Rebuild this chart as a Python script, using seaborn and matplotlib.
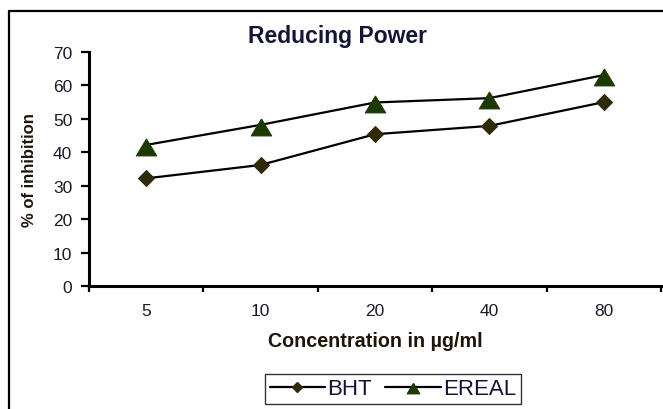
import matplotlib
matplotlib.use("Agg")
import matplotlib.pyplot as plt
from matplotlib.lines import Line2D
import seaborn as sns
import pandas as pd

categories = ["5", "10", "20", "40", "80"]
bht = [32.2, 36.2, 45.4, 47.9, 55.0]
ereal = [42.2, 48.2, 54.9, 56.2, 63.1]
y_ticks = [0, 10, 20, 30, 40, 50, 60, 70]
title = "Reducing Power"
x_label = "Concentration in µg/ml"
y_label = "% of inhibition"
series_names = ["BHT", "EREAL"]

sns.set_theme(style="white")
plt.rcParams['font.family'] = ['Liberation Sans', 'DejaVu Sans']

W, H = 663, 410
fig = plt.figure(figsize=(W / 100, H / 100), dpi=100)
ax = fig.add_axes([89 / W, 1 - 287 / H, (661 - 89) / W, (287 - 53) / H])

df = pd.DataFrame({"conc": categories * 2,
                   "val": bht + ereal,
                   "series": [series_names[0]] * 5 + [series_names[1]] * 5})

tri = [(0, 0.63), (-0.98, -1), (0.98, -1), (0, 0.63)]
sns.lineplot(data=df[df.series == "BHT"], x="conc", y="val", ax=ax, color="black",
             lw=1.6, marker="D", markersize=7.8, markerfacecolor="#2f2a08",
             markeredgecolor="#2f2a08", legend=False, sort=False)
sns.lineplot(data=df[df.series == "EREAL"], x="conc", y="val", ax=ax, color="black",
             lw=1.6, marker=tri, markersize=15, markerfacecolor="#1c3a00",
             markeredgecolor="#1c3a00", legend=False, sort=False)

ax.set_xlim(-0.5, 4.5)
ax.set_ylim(0, 70)
ax.set_yticks(y_ticks)
ax.set_xticks(range(len(categories)))
ax.set_xticklabels(categories)
ax.set_xticks([i - 0.5 for i in range(len(categories) + 1)], minor=True)
ax.tick_params(axis="x", which="major", length=0, pad=12, labelsize=12.5, labelcolor="#1a1a2a")
ax.tick_params(axis="x", which="minor", length=4, width=1.6, direction="out", color="black", bottom=True)
ax.tick_params(axis="y", length=6, width=1.6, direction="out", color="black", left=True,
               pad=6, labelsize=12.5, labelcolor="#1a1a2a")
ax.set_xlabel("")
ax.set_ylabel("")
for s in ["top", "right"]:
    ax.spines[s].set_visible(False)
for s in ["left", "bottom"]:
    ax.spines[s].set_color("black")
    ax.spines[s].set_linewidth(2.2)
ax.grid(False)
ax.patch.set_alpha(0)

fig.text(337 / W, 1 - 37 / H, title, ha="center", va="center", fontsize=16.5,
         fontweight="bold", color="#14143a")
fig.text(375 / W, 1 - 342 / H, x_label, ha="center", va="center", fontsize=14.2,
         fontweight="bold", color="#1e1408")
fig.text(30 / W, 1 - 170 / H, y_label, ha="center", va="center", rotation=90,
         fontsize=12, fontweight="bold", color="#1e1408")

# outer frame (left and top edges)
fig.add_artist(Line2D([9 / W, 9 / W], [0, 1 - 12 / H], transform=fig.transFigure, color="black", lw=1.6))
fig.add_artist(Line2D([9 / W, 1], [1 - 12 / H, 1 - 12 / H], transform=fig.transFigure, color="black", lw=1.6))

handles = [Line2D([], [], color="black", lw=1.6, marker="D", markersize=5.5,
                  markerfacecolor="#2f2a08", markeredgecolor="#2f2a08"),
           Line2D([], [], color="black", lw=1.6, marker=tri, markersize=9,
                  markerfacecolor="#1c3a00", markeredgecolor="#1c3a00")]
leg = fig.legend(handles, series_names, loc="center", bbox_to_anchor=(393 / W, 1 - 390 / H),
                 ncol=2, frameon=True, fancybox=False, fontsize=16, handlelength=2.5,
                 handletextpad=0.1, columnspacing=0.6, borderpad=0.2, borderaxespad=0)
leg.get_frame().set_edgecolor("black")
leg.get_frame().set_linewidth(1.0)
for t in leg.get_texts():
    t.set_color("#10103a")

fig.savefig("out.png", dpi=100)
